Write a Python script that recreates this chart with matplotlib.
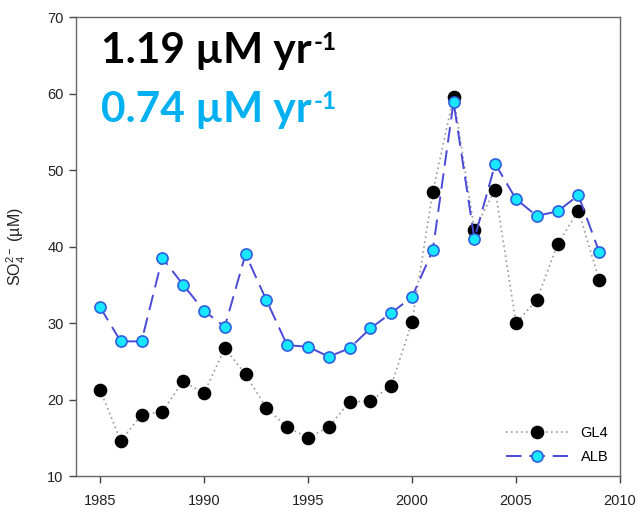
import matplotlib
matplotlib.use("Agg")
import matplotlib.pyplot as plt
from matplotlib.transforms import offset_copy

years = list(range(1985, 2010))
gl4 = [21.3, 14.6, 18.0, 18.4, 22.4, 20.8, 26.7, 23.3, 18.9, 16.4, 15.0, 16.4, 19.7, 19.8, 21.8,
       30.1, 47.1, 59.6, 42.2, 47.4, 30.0, 33.0, 40.3, 44.7, 35.6]
alb = [32.1, 27.6, 27.6, 38.5, 35.0, 31.6, 29.5, 39.0, 33.0, 27.1, 26.9, 25.6, 26.7, 29.3, 31.3,
       33.4, 39.5, 58.9, 41.0, 50.8, 46.2, 44.0, 44.6, 46.7, 39.3]
xticks = [1985, 1990, 1995, 2000, 2005, 2010]
yticks = [10, 20, 30, 40, 50, 60, 70]
rate_texts = ['1.19 µM yr', '0.74 µM yr']
rate_colors = ['black', '#00B0F0']

plt.rcParams['font.family'] = ['Liberation Sans', 'DejaVu Sans']
plt.rcParams['mathtext.fontset'] = 'custom'
plt.rcParams['mathtext.rm'] = 'Liberation Sans'
plt.rcParams['mathtext.it'] = 'Liberation Sans'

fig = plt.figure(figsize=(6.43, 5.19), dpi=100)
ax = fig.add_axes([76/643, 1-476/519, (620-76)/643, (476-17)/519])

ax.plot(years, gl4, linestyle=(0, (1, 2)), color='#999999', linewidth=1.2,
        marker='o', markersize=8.8, markerfacecolor='black', markeredgecolor='black', label='GL4')
ax.plot(years, alb, linestyle=(0, (8, 4)), color='#4a4ad6', linewidth=1.4,
        marker='o', markersize=8, markerfacecolor='#19e6ff', markeredgecolor='#2f5fe0',
        markeredgewidth=1.2, label='ALB')

ax.set_xlim(1983.85, 2010)
ax.set_ylim(10, 70)
ax.set_xticks(xticks)
ax.set_yticks(yticks)
ax.tick_params(direction='out', length=5, width=1, colors='#444444', labelsize=10.5,
               labelcolor='#222222')
ax.tick_params(axis='x', pad=8)
ax.tick_params(axis='y', pad=4)
for s in ax.spines.values():
    s.set_color('#666666')
    s.set_linewidth(1)

ax.set_ylabel('SO$_4^{2-}$ (µM)', fontsize=11.5, color='#222222', labelpad=14)

baselines = [0.9, 0.771]
fig.canvas.draw()
renderer = fig.canvas.get_renderer()
for txt, col, yb in zip(rate_texts, rate_colors, baselines):
    t = ax.text(25/544, yb, txt, transform=ax.transAxes, fontsize=30.5,
                fontweight='bold', color=col, family=['Lato', 'DejaVu Sans'], va='baseline')
    bb = t.get_window_extent(renderer=renderer)
    x_end = ax.transAxes.inverted().transform((bb.x1, 0))[0]
    tr = offset_copy(ax.transAxes, fig=fig, x=2, y=13, units='dots')
    ax.text(x_end, yb, '-1', transform=tr, fontsize=17.5, fontweight='bold', color=col,
            family=['Lato', 'DejaVu Sans'], va='baseline')

leg = ax.legend(loc='lower right', frameon=False, fontsize=10.5, handlelength=4.2,
                handletextpad=0.9, borderaxespad=0.4, labelspacing=0.7)

fig.savefig('out.png', dpi=100)
